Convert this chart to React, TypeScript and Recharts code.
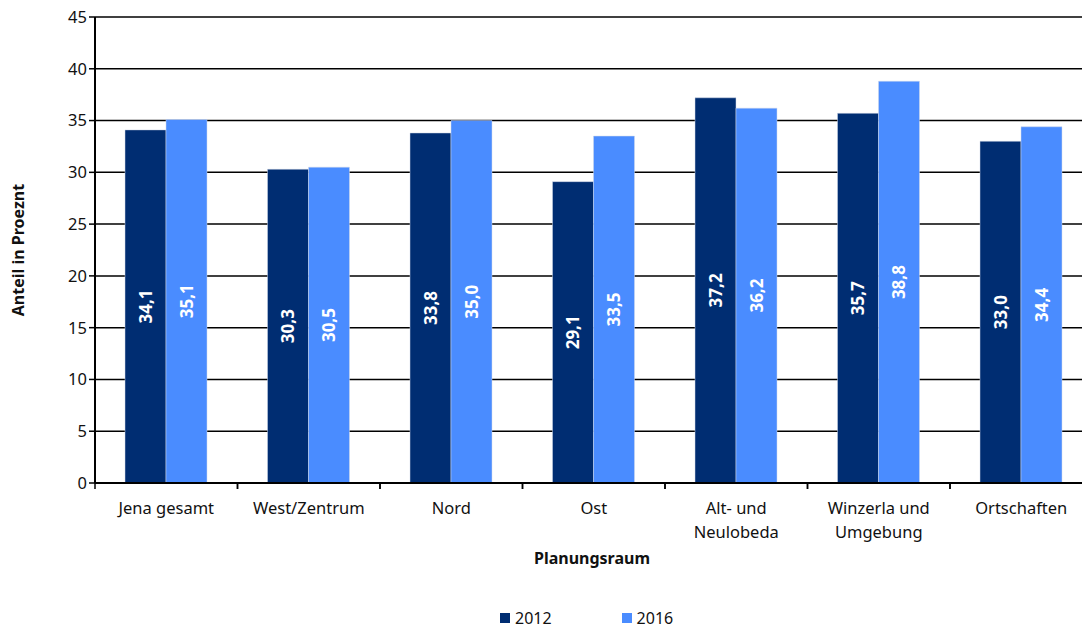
import { BarChart, Bar, XAxis, YAxis, CartesianGrid, LabelList } from "recharts";

const categories = ["Jena gesamt", "West/Zentrum", "Nord", "Ost", "Alt- und\nNeulobeda", "Winzerla und\nUmgebung", "Ortschaften"];
const values2012 = [34.1, 30.3, 33.8, 29.1, 37.2, 35.7, 33.0];
const values2016 = [35.1, 30.5, 35.0, 33.5, 36.2, 38.8, 34.4];
const yTicks = [0, 5, 10, 15, 20, 25, 30, 35, 40, 45];
const seriesNames = ["2012", "2016"];

const data = categories.map((name, i) => ({ name, y2012: values2012[i], y2016: values2016[i] }));

const FONT = "'Noto Sans', sans-serif";
const DARK = "#002D72";
const LIGHT = "#4A8CFF";
const BAND = 997.5 / 7;
const AXIS_Y = 483;

function fmt(v: unknown) {
  return Number(v).toFixed(1).replace(".", ",");
}

function CategoryTick(props: any) {
  const { x, payload } = props;
  const lines = String(payload.value).split("\n");
  return (
    <g>
      <line x1={x - BAND / 2} x2={x - BAND / 2} y1={AXIS_Y} y2={AXIS_Y + 6} stroke="#000" strokeWidth={1.5} />
      <line x1={x + BAND / 2} x2={x + BAND / 2} y1={AXIS_Y} y2={AXIS_Y + 6} stroke="#000" strokeWidth={1.5} />
      {lines.map((t, i) => (
        <text key={i} x={x} y={AXIS_Y + 31 + i * 24} textAnchor="middle" fontSize={16.5} fill="#111" fontFamily={FONT}>
          {t}
        </text>
      ))}
    </g>
  );
}

function BarValue(props: any) {
  const { x, y, width, height, value } = props;
  const cx = x + width / 2;
  const cy = y + height / 2;
  return (
    <text
      x={cx}
      y={cy}
      transform={`rotate(-90 ${cx} ${cy})`}
      textAnchor="middle"
      dominantBaseline="central"
      fill="#fff"
      fontSize={17}
      fontWeight="bold"
      fontFamily={FONT}
    >
      {fmt(value)}
    </text>
  );
}

export default function App() {
  const colors = [DARK, LIGHT];
  return (
    <div style={{ position: "absolute", left: 0, top: 0, width: 1082, height: 628, overflow: "hidden", background: "#fff", fontFamily: FONT }}>
      <BarChart
        width={1100}
        height={628}
        data={data}
        margin={{ top: 17, right: 7.5, left: 0, bottom: 144 }}
        barCategoryGap={30}
        barGap={0}
      >
        <CartesianGrid vertical={false} stroke="#000" strokeWidth={1.5} />
        <XAxis
          dataKey="name"
          tick={<CategoryTick />}
          tickLine={false}
          axisLine={{ stroke: "#000", strokeWidth: 2 }}
          interval={0}
          height={1}
        />
        <YAxis
          domain={[0, 45]}
          ticks={yTicks}
          interval={0}
          width={95}
          tick={{ fontSize: 16.5, fill: "#111", fontFamily: FONT }}
          tickSize={6}
          tickLine={{ stroke: "#000", strokeWidth: 1.5 }}
          axisLine={{ stroke: "#000", strokeWidth: 2 }}
        />
        <Bar dataKey="y2012" name="2012" fill={DARK} stroke="#d0d8e8" strokeWidth={0.5} isAnimationActive={false}>
          <LabelList dataKey="y2012" content={<BarValue />} />
        </Bar>
        <Bar dataKey="y2016" name="2016" fill={LIGHT} stroke="#d0d8e8" strokeWidth={0.5} isAnimationActive={false}>
          <LabelList dataKey="y2016" content={<BarValue />} />
        </Bar>
      </BarChart>
      <div
        style={{
          position: "absolute",
          left: 18,
          top: 250,
          transform: "translate(-50%, -50%) rotate(-90deg)",
          whiteSpace: "nowrap",
          fontSize: 16,
          fontWeight: "bold",
          color: "#111",
        }}
      >
        Anteil in Proeznt
      </div>
      <div
        style={{
          position: "absolute",
          left: 592,
          top: 558,
          transform: "translate(-50%, -50%)",
          whiteSpace: "nowrap",
          fontSize: 16,
          fontWeight: "bold",
          color: "#111",
        }}
      >
        Planungsraum
      </div>
      <div style={{ position: "absolute", left: 500, top: 609, display: "flex", gap: 70, fontSize: 16, lineHeight: "18px", color: "#111" }}>
        {seriesNames.map((n, i) => (
          <div key={n} style={{ display: "flex", alignItems: "center", gap: 5 }}>
            <span style={{ width: 10, height: 10, background: colors[i], display: "inline-block" }} />
            <span>{n}</span>
          </div>
        ))}
      </div>
    </div>
  );
}
